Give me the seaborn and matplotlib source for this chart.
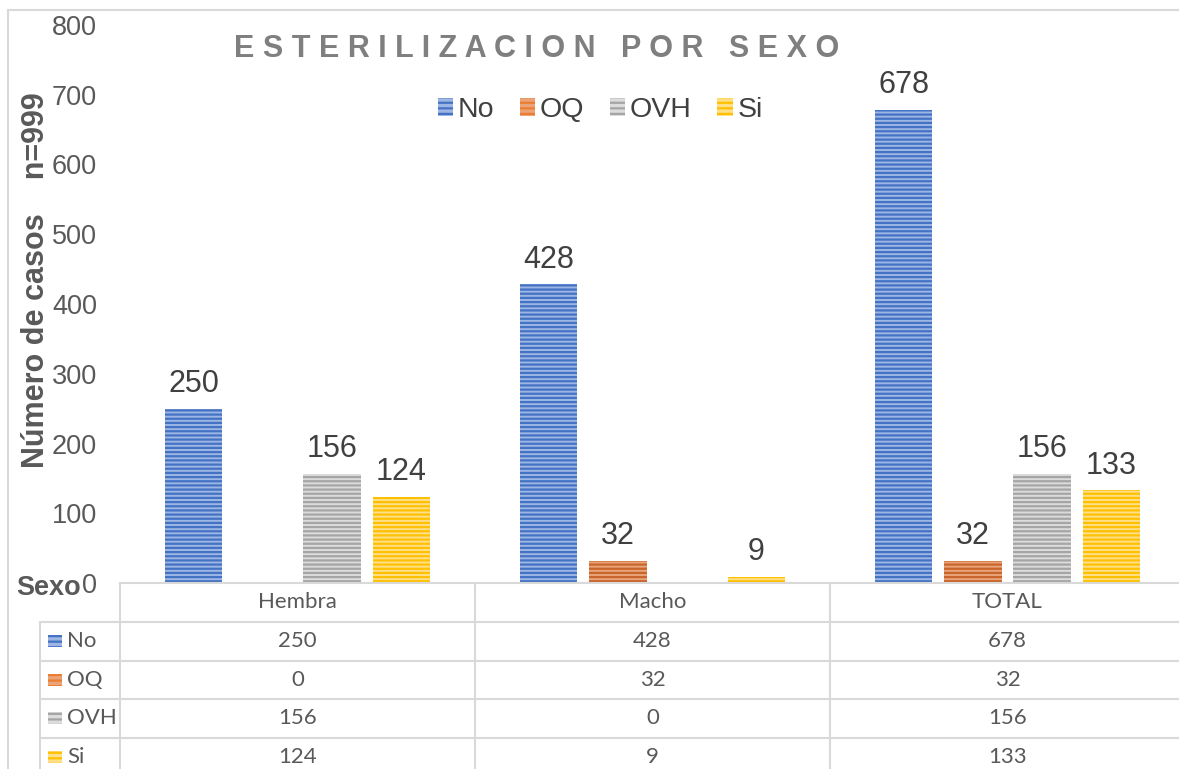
import numpy as np
import pandas as pd
import matplotlib
matplotlib.use("Agg")
import matplotlib.pyplot as plt
import seaborn as sns
from matplotlib.lines import Line2D
from matplotlib.patches import Patch, Rectangle

# Data
sexo = ['Hembra', 'Macho', 'TOTAL']
estado = ['No', 'OQ', 'OVH', 'Si']
no_vals = [250, 428, 678]
oq_vals = [0, 32, 32]
ovh_vals = [156, 0, 156]
si_vals = [124, 9, 133]

base_colors = ['#4472C4', '#C8652C', '#A5A5A5', '#FFC000']
light_colors = ['#9db6e4', '#eaa47a', '#dcdcdc', '#ffe08a']
key_colors = ['#4472C4', '#ED7D31', '#A5A5A5', '#FFC000']

values = [no_vals, oq_vals, ovh_vals, si_vals]
df = pd.DataFrame({
    'Sexo': sexo * len(estado),
    'Estado': np.repeat(estado, len(sexo)),
    'Casos': np.concatenate(values),
})

W, H = 1179, 769
sns.set_style('white')
plt.rcParams['font.family'] = ['Liberation Sans', 'DejaVu Sans']
plt.rcParams['hatch.linewidth'] = 1.6

fig = plt.figure(figsize=(W / 100, H / 100), dpi=100)
ax = fig.add_axes([120 / W, (H - 583) / H, 1065 / W, 558 / H])

sns.barplot(data=df, x='Sexo', y='Casos', hue='Estado', order=sexo,
            hue_order=estado, palette=base_colors, width=0.78, gap=0.17,
            ax=ax, legend=False)

for cont, fc, ec, vals in zip(ax.containers, light_colors, base_colors, values):
    for bar in cont:
        bar.set_facecolor(fc)
        bar.set_edgecolor(ec)
        bar.set_linewidth(0)
        bar.set_hatch('----')
    labels = [str(v) if v != 0 else '' for v in vals]
    ax.bar_label(cont, labels=labels, padding=7, fontsize=22, color='#404040')

ax.set_xlim(-0.5, 2.5)
ax.set_ylim(0, 800)
ax.set_yticks(range(0, 801, 100))
ax.tick_params(axis='y', labelsize=19.5, labelcolor='#595959', length=0, pad=16.5)
ax.set_xticks([])
ax.set_xlabel('')
ax.set_ylabel('')
for s in ['left', 'right', 'top']:
    ax.spines[s].set_visible(False)
ax.spines['bottom'].set_color('#d9d9d9')
ax.spines['bottom'].set_linewidth(1.5)

# Title
title = '   '.join(' '.join(w) for w in 'ESTERILIZACION POR SEXO'.split())
fig.text(537 / W, 1 - 49 / H, title, ha='center', va='center', fontsize=22,
         fontweight='bold', color='#7f7f7f')

# Legend
handles = [Patch(facecolor=fc, edgecolor=ec, hatch='---', linewidth=0, label=e)
           for fc, ec, e in zip(light_colors, key_colors, estado)]
fig.legend(handles=handles, loc='center', bbox_to_anchor=(600 / W, 1 - 110 / H),
           ncol=4, frameon=False, fontsize=20.5, handlelength=0.55,
           handleheight=0.55, handletextpad=0.15, columnspacing=0.9,
           labelcolor='#404040')

# Axis labels
fig.text(36 / W, 1 - 280 / H, 'Número de casos    n=999', rotation=90,
         ha='center', va='center', fontsize=22, fontweight='bold', color='#595959')
fig.text(16 / W, 1 - 588 / H, 'Sexo', ha='left', va='center', fontsize=19.5,
         fontweight='bold', color='#595959')

# Chart frame
grid_c = '#d9d9d9'
fig.add_artist(Line2D([8 / W, 8 / W], [0, 1 - 10 / H], color=grid_c, lw=1.5))
fig.add_artist(Line2D([8 / W, 1], [1 - 10 / H, 1 - 10 / H], color=grid_c, lw=1.5))

# Data table
row_top = [583, 622, 661, 699, 738]
row_h = 38.5
xs = [ax.transData.transform((i, 0))[0] / W for i in range(len(sexo))]
bounds = [ax.transData.transform((i - 0.5, 0))[0] / W for i in range(len(sexo) + 1)]

for b in bounds:
    fig.add_artist(Line2D([b, b], [0, 1 - 583 / H], color=grid_c, lw=1.5))
fig.add_artist(Line2D([40 / W, 40 / W], [0, 1 - 622 / H], color=grid_c, lw=1.5))
for y in row_top[1:]:
    fig.add_artist(Line2D([40 / W, 1], [1 - y / H, 1 - y / H], color=grid_c, lw=1.5))

tfont = dict(fontsize=16, color='#595959', family=['Lato', 'DejaVu Sans'],
             ha='center', va='center')
for x, s in zip(xs, sexo):
    fig.text(x, 1 - (583 + row_h / 2) / H, s, **tfont)
for r, (e, vals) in enumerate(zip(estado, values)):
    yc = 1 - (row_top[r + 1] + row_h / 2) / H
    for x, v in zip(xs, vals):
        fig.text(x, yc, str(v), **tfont)
    fig.add_artist(Rectangle((48 / W, yc - 6 / H), 14 / W, 12 / H,
                             facecolor=light_colors[r], edgecolor=key_colors[r],
                             hatch='---', linewidth=0, transform=fig.transFigure))
    fig.text(67 / W, yc, e, **{**tfont, 'ha': 'left'})

fig.savefig('out.png', dpi=100)
